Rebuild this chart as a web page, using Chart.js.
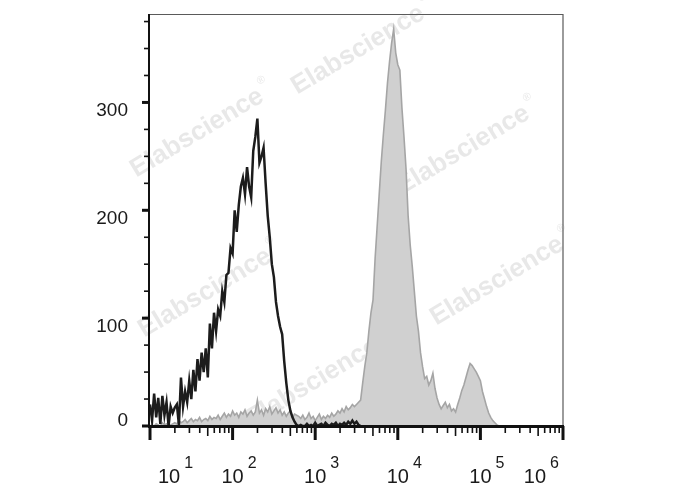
<!DOCTYPE html>
<html>
<head>
<meta charset="utf-8">
<script src="https://cdn.jsdelivr.net/npm/chart.js@4.4.1/dist/chart.umd.min.js"></script>
<style>
  body { margin: 0; background: #fff; }
  canvas { display: block; }
</style>
</head>
<body>
<canvas id="histo" width="688" height="490"></canvas>
<script>
// channel positions as log10 exponents
const channelExp = [
  1.000, 1.025, 1.050, 1.075, 1.100, 1.125, 1.150, 1.175, 1.200, 1.225,
  1.250, 1.275, 1.300, 1.325, 1.350, 1.375, 1.400, 1.425, 1.450, 1.475,
  1.500, 1.525, 1.550, 1.575, 1.600, 1.625, 1.650, 1.675, 1.700, 1.725,
  1.750, 1.775, 1.800, 1.825, 1.850, 1.875, 1.900, 1.925, 1.950, 1.975,
  2.000, 2.025, 2.050, 2.075, 2.100, 2.125, 2.150, 2.175, 2.200, 2.225,
  2.250, 2.275, 2.300, 2.325, 2.350, 2.375, 2.400, 2.425, 2.450, 2.475,
  2.500, 2.525, 2.550, 2.575, 2.600, 2.625, 2.650, 2.675, 2.700, 2.725,
  2.750, 2.775, 2.800, 2.825, 2.850, 2.875, 2.900, 2.925, 2.950, 2.975,
  3.000, 3.025, 3.050, 3.075, 3.100, 3.125, 3.150, 3.175, 3.200, 3.225,
  3.250, 3.275, 3.300, 3.325, 3.350, 3.375, 3.400, 3.425, 3.450, 3.475,
  3.500, 3.525, 3.550, 3.575, 3.600, 3.625, 3.650, 3.675, 3.700, 3.725,
  3.750, 3.775, 3.800, 3.825, 3.850, 3.875, 3.900, 3.925, 3.950, 3.975,
  4.000, 4.025, 4.050, 4.075, 4.100, 4.125, 4.150, 4.175, 4.200, 4.225,
  4.250, 4.275, 4.300, 4.325, 4.350, 4.375, 4.400, 4.425, 4.450, 4.475,
  4.500, 4.525, 4.550, 4.575, 4.600, 4.625, 4.650, 4.675, 4.700, 4.725,
  4.750, 4.775, 4.800, 4.825, 4.850, 4.875, 4.900, 4.925, 4.950, 4.975,
  5.000, 5.025, 5.050, 5.075, 5.100, 5.125, 5.150, 5.175, 5.200, 5.225,
  5.250, 5.275, 5.300
];

// unstained / isotype (black outline)
const blackCounts = [
  20, 5, 30, 8, 26, 2, 28, 10, 22, 0,
  18, 12, 17, 20, 1, 45, 18, 32, 22, 42,
  25, 52, 32, 62, 42, 68, 50, 72, 45, 95,
  72, 105, 88, 108, 102, 125, 115, 140, 142, 165,
  160, 200, 180, 205, 222, 230, 215, 240, 222, 212,
  255, 268, 285, 244, 250, 258, 225, 195, 175, 150,
  138, 115, 102, 92, 85, 60, 40, 24, 14, 8,
  4, 1, 0, 1, 0, 0, 2, 0, 1, 0,
  3, 0, 1, 2, 0, 3, 1, 0, 2, 1,
  3, 0, 2, 1, 3, 1, 4, 2, 5, 2,
  4, 1, 0
];

// stained sample (grey filled)
const greyCounts = [
  0, 1, 0, 2, 1, 0, 3, 1, 2, 0,
  1, 2, 3, 2, 5, 3, 4, 6, 3, 5,
  7, 4, 6, 5, 8, 4, 6, 7, 5, 9,
  6, 8, 7, 10, 6, 9, 12, 8, 11, 9,
  14, 10, 12, 8, 13, 11, 15, 9, 12, 14,
  10, 13, 24, 12, 15, 10, 16, 13, 18, 11,
  14, 17, 12, 15, 10, 13, 9, 12, 14, 8,
  11, 10, 9, 7, 10, 6, 8, 12, 7, 9,
  5, 8, 11, 6, 9, 7, 10, 8, 12, 9,
  11, 14, 12, 16, 13, 18, 15, 17, 20, 18,
  20, 22, 24, 40, 55, 68, 88, 105, 117, 155,
  185, 215, 245, 270, 293, 318, 338, 355, 368, 346,
  335, 330, 295, 268, 238, 195, 168, 148, 125, 102,
  88, 68, 55, 44, 46, 38, 42, 49, 35, 26,
  20, 16, 19, 22, 17, 20, 14, 16, 13, 20,
  26, 33, 38, 45, 52, 58, 56, 53, 50, 46,
  42, 32, 25, 18, 12, 8, 5, 3, 1, 0,
  0, 0, 0
];

const decades = [1, 2, 3, 4, 5, 6];
const yTicks = [0, 100, 200, 300];
const yMinorStep = 25;
const watermark = 'Elabscience';

const FONT = '"Liberation Sans", Arial, sans-serif';

function toPoints(counts) {
  return counts.map((c, i) => ({ x: Math.pow(10, channelExp[i]), y: c }));
}

const watermarkPlugin = {
  id: 'watermark',
  beforeDatasetsDraw(chart) {
    const ctx = chart.ctx;
    const spots = [[197, 133], [358, 50], [463, 150], [497, 281], [205, 293], [312, 383]];
    ctx.save();
    ctx.font = 'bold 26px ' + FONT;
    ctx.fillStyle = 'rgba(190,190,190,0.36)';
    ctx.textAlign = 'center';
    ctx.textBaseline = 'middle';
    const w = ctx.measureText(watermark).width;
    spots.forEach(([x, y]) => {
      ctx.save();
      ctx.translate(x, y);
      ctx.rotate(-31 * Math.PI / 180);
      ctx.font = 'bold 26px ' + FONT;
      ctx.fillText(watermark, 0, 0);
      ctx.font = '11px ' + FONT;
      ctx.fillText('\u00AE', w / 2 + 7, -12);
      ctx.restore();
    });
    ctx.restore();
  }
};

const axesPlugin = {
  id: 'axesDraw',
  afterDatasetsDraw(chart) {
    const ctx = chart.ctx;
    const xs = chart.scales.x, ys = chart.scales.y;
    const a = chart.chartArea;
    ctx.save();
    // frame top/right
    ctx.strokeStyle = '#5a5a5a';
    ctx.lineWidth = 1.2;
    ctx.beginPath();
    ctx.moveTo(a.left, a.top + 0.5);
    ctx.lineTo(a.right, a.top + 0.5);
    ctx.lineTo(a.right, a.bottom);
    ctx.stroke();

    ctx.strokeStyle = '#111';
    // y axis line
    ctx.lineWidth = 2;
    ctx.beginPath();
    ctx.moveTo(a.left - 1, a.top);
    ctx.lineTo(a.left - 1, a.bottom + 1);
    ctx.stroke();
    // x axis line
    ctx.lineWidth = 3;
    ctx.beginPath();
    ctx.moveTo(a.left - 2, a.bottom + 0.5);
    ctx.lineTo(a.right + 1, a.bottom + 0.5);
    ctx.stroke();

    // y ticks
    for (let v = 0; v <= ys.max; v += yMinorStep) {
      const py = ys.getPixelForValue(v);
      const major = yTicks.includes(v);
      ctx.lineWidth = major ? 3 : 1.6;
      ctx.beginPath();
      ctx.moveTo(a.left - (major ? 8 : 6), py);
      ctx.lineTo(a.left - 1, py);
      ctx.stroke();
    }
    // x ticks (log minor)
    decades.forEach((d, i) => {
      const px = xs.getPixelForValue(Math.pow(10, d));
      ctx.lineWidth = 3;
      ctx.beginPath();
      ctx.moveTo(px, a.bottom);
      ctx.lineTo(px, a.bottom + 14);
      ctx.stroke();
      if (i < decades.length - 1) {
        for (let k = 2; k <= 9; k++) {
          const mx = xs.getPixelForValue(k * Math.pow(10, d));
          ctx.lineWidth = 1.6;
          ctx.beginPath();
          ctx.moveTo(mx, a.bottom);
          ctx.lineTo(mx, a.bottom + (k === 5 ? 10 : 7));
          ctx.stroke();
        }
      }
    });

    // y labels
    ctx.fillStyle = '#1a1a1a';
    ctx.font = '19px ' + FONT;
    ctx.textAlign = 'right';
    ctx.textBaseline = 'alphabetic';
    yTicks.forEach(v => {
      const py = ys.getPixelForValue(v);
      ctx.fillText(String(v), 128, v === 0 ? py : py + 14);
    });

    // x labels 10^n
    ctx.textAlign = 'left';
    decades.forEach(d => {
      const px = xs.getPixelForValue(Math.pow(10, d));
      ctx.font = '20px ' + FONT;
      const w1 = ctx.measureText('10').width;
      ctx.font = '16px ' + FONT;
      const w2 = ctx.measureText(String(d)).width;
      const gap = 4;
      let start = px - w1 / 2;
      start = Math.max(start, a.left + 8);
      if (start + w1 + gap + w2 > a.right - 4) start = a.right - 4 - (w1 + gap + w2);
      ctx.font = '20px ' + FONT;
      ctx.fillText('10', start, 483);
      ctx.font = '16px ' + FONT;
      ctx.fillText(String(d), start + w1 + gap, 468);
    });
    ctx.restore();
  }
};

const bgPlugin = {
  id: 'bg',
  beforeDraw(chart) {
    const ctx = chart.ctx;
    ctx.save();
    ctx.fillStyle = '#fff';
    ctx.fillRect(0, 0, chart.width, chart.height);
    ctx.restore();
  }
};

new Chart(document.getElementById('histo'), {
  type: 'line',
  data: {
    datasets: [
      {
        label: 'control',
        data: toPoints(blackCounts),
        borderColor: '#1c1c1c',
        borderWidth: 2.5,
        fill: false,
        pointRadius: 0,
        tension: 0
      },
      {
        label: 'stained',
        data: toPoints(greyCounts),
        borderColor: '#a5a5a5',
        backgroundColor: '#d0d0d0',
        borderWidth: 1.6,
        fill: 'origin',
        pointRadius: 0,
        tension: 0
      }
    ]
  },
  options: {
    responsive: false,
    animation: false,
    devicePixelRatio: 1,
    layout: { padding: { left: 150, right: 125, top: 14, bottom: 64 } },
    plugins: { legend: { display: false }, tooltip: { enabled: false } },
    scales: {
      x: { type: 'logarithmic', min: 10, max: 1e6, display: false },
      y: { type: 'linear', min: 0, max: 382, display: false }
    }
  },
  plugins: [bgPlugin, watermarkPlugin, axesPlugin]
});
</script>
</body>
</html>
